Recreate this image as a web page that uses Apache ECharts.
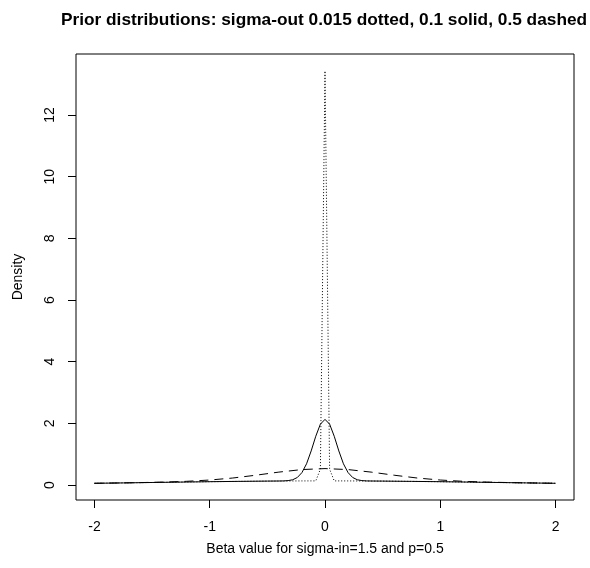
<!DOCTYPE html>
<html>
<head>
<meta charset="utf-8">
<script src="https://cdn.jsdelivr.net/npm/echarts@6/dist/echarts.min.js"></script>
<style>
  html, body { margin: 0; padding: 0; background: #fff; }
  #chart { width: 590px; height: 568px; }
</style>
</head>
<body>
<div id="chart"></div>
<script>
// tick positions
var xTicks = [-2, -1, 0, 1, 2];
var yTicks = [0, 2, 4, 6, 8, 10, 12];

// sigma-out 0.015 (dotted)
var dottedX = [-2, -1.5, -1, -0.5, -0.2, -0.08, -0.04, 0, 0.04, 0.08, 0.2, 0.5, 1, 1.5, 2];
var dottedY = [0.055, 0.081, 0.107, 0.126, 0.132, 0.133, 0.513, 13.43, 0.513, 0.133, 0.132, 0.126, 0.107, 0.081, 0.055];

// sigma-out 0.1 (solid)
var solidX = [-2, -1.75, -1.5, -1.25, -1, -0.75, -0.5, -0.4, -0.36, -0.32, -0.28, -0.24, -0.2, -0.16, -0.12, -0.08, -0.04,
              0, 0.04, 0.08, 0.12, 0.16, 0.2, 0.24, 0.28, 0.32, 0.36, 0.4, 0.5, 0.75, 1, 1.25, 1.5, 1.75, 2];
var solidY = [0.055, 0.067, 0.081, 0.094, 0.107, 0.117, 0.126, 0.129, 0.132, 0.142, 0.170, 0.243, 0.402, 0.687, 1.104, 1.581, 1.974,
              2.128, 1.974, 1.581, 1.104, 0.687, 0.402, 0.243, 0.170, 0.142, 0.132, 0.129, 0.126, 0.117, 0.107, 0.094, 0.081, 0.067, 0.055];

// sigma-out 0.5 (dashed)
var dashedX = [-2, -1.8, -1.6, -1.4, -1.2, -1, -0.8, -0.6, -0.4, -0.2, 0, 0.2, 0.4, 0.6, 0.8, 1, 1.2, 1.4, 1.6, 1.8, 2];
var dashedY = [0.055, 0.065, 0.078, 0.094, 0.119, 0.161, 0.226, 0.317, 0.418, 0.500, 0.532, 0.500, 0.418, 0.317, 0.226, 0.161, 0.119, 0.094, 0.078, 0.065, 0.055];

function pairs(xs, ys) {
    return xs.map(function(x, i) { return [x, ys[i]]; });
}

var font = 'Liberation Sans, Arial, Helvetica, sans-serif';

var myChart = echarts.init(document.getElementById('chart'));
var option = {
    animation: false,
    backgroundColor: '#fff',
    title: {
        text: 'Prior distributions: sigma-out 0.015 dotted, 0.1 solid, 0.5 dashed',
        left: 319,
        textAlign: 'center',
        top: 7,
        textStyle: {
            color: '#000',
            fontFamily: font,
            fontWeight: 'bold',
            fontSize: 17.3
        }
    },
    grid: {
        left: 76,
        right: 16,
        top: 54,
        bottom: 68,
        show: true,
        borderColor: '#000',
        borderWidth: 1,
        backgroundColor: 'transparent'
    },
    xAxis: {
        type: 'value',
        min: -2.16,
        max: 2.16,
        name: 'Beta value for sigma-in=1.5 and p=0.5',
        nameLocation: 'middle',
        nameGap: 42,
        nameTextStyle: { color: '#000', fontFamily: font, fontSize: 14 },
        axisLine: { show: false, onZero: false },
        splitLine: { show: false },
        axisTick: {
            show: true,
            customValues: xTicks,
            length: 8,
            lineStyle: { color: '#000' }
        },
        axisLabel: {
            customValues: xTicks,
            margin: 20,
            color: '#000',
            fontFamily: font,
            fontSize: 14
        }
    },
    yAxis: {
        type: 'value',
        min: -0.487,
        max: 13.98,
        name: 'Density',
        nameLocation: 'middle',
        nameRotate: 90,
        nameGap: 51,
        nameTextStyle: { color: '#000', fontFamily: font, fontSize: 14 },
        axisLine: { show: false, onZero: false },
        splitLine: { show: false },
        axisTick: {
            show: true,
            customValues: yTicks,
            length: 8,
            lineStyle: { color: '#000' }
        },
        axisLabel: {
            customValues: yTicks,
            rotate: 90,
            margin: 19,
            color: '#000',
            fontFamily: font,
            fontSize: 14
        }
    },
    series: [
        {
            name: 'sigma-out 0.015',
            type: 'line',
            data: pairs(dottedX, dottedY),
            symbol: 'none',
            lineStyle: { color: '#000', width: 1, type: [1, 2] }
        },
        {
            name: 'sigma-out 0.1',
            type: 'line',
            data: pairs(solidX, solidY),
            symbol: 'none',
            lineStyle: { color: '#000', width: 1, type: 'solid' }
        },
        {
            name: 'sigma-out 0.5',
            type: 'line',
            data: pairs(dashedX, dashedY),
            symbol: 'none',
            lineStyle: { color: '#000', width: 1, type: [9, 6] }
        }
    ]
};
myChart.setOption(option);
</script>
</body>
</html>
